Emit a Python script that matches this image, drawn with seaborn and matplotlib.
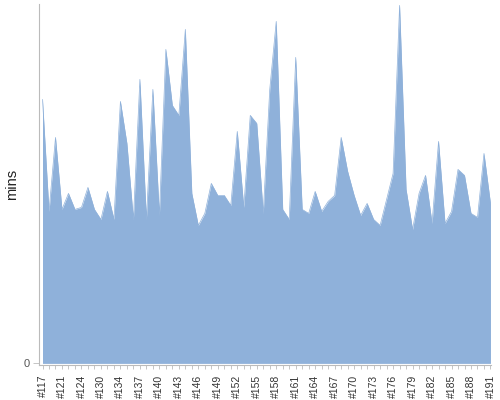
import matplotlib
matplotlib.use("Agg")
import matplotlib.pyplot as plt
import seaborn as sns
import numpy as np
import pandas as pd

builds = ["#117", "#119", "#120", "#121", "#122", "#123", "#124", "#126", "#128",
          "#130", "#131", "#133", "#134", "#135", "#136", "#137", "#138", "#139",
          "#140", "#141", "#142", "#143", "#144", "#145", "#146", "#147", "#148",
          "#149", "#150", "#151", "#152", "#153", "#154", "#155", "#156", "#157",
          "#158", "#159", "#160", "#161", "#162", "#163", "#164", "#165", "#166",
          "#167", "#168", "#169", "#170", "#171", "#172", "#173", "#174", "#175",
          "#176", "#177", "#178", "#179", "#180", "#181", "#182", "#183", "#184",
          "#185", "#186", "#187", "#188", "#189", "#190", "#191"]
mins = [13.2, 7.6, 11.3, 7.7, 8.5, 7.7, 7.8, 8.8, 7.7, 7.2,
        8.6, 7.2, 13.1, 11.0, 7.2, 14.2, 7.2, 13.7, 7.4, 15.7,
        12.9, 12.4, 16.7, 8.5, 6.9, 7.5, 9.0, 8.4, 8.4, 7.9,
        11.6, 7.8, 12.4, 12.0, 7.5, 13.7, 17.1, 7.7, 7.2, 15.3,
        7.7, 7.5, 8.6, 7.6, 8.1, 8.4, 11.3, 9.6, 8.4, 7.4,
        8.0, 7.2, 6.9, 8.2, 9.5, 17.9, 8.7, 6.7, 8.5, 9.4,
        7.0, 11.1, 7.0, 7.6, 9.7, 9.4, 7.5, 7.3, 10.5, 8.0]

df = pd.DataFrame({"build": builds, "mins": mins})
df["idx"] = np.arange(len(df))

sns.set_theme(style="white")
plt.rcParams["font.family"] = ["Liberation Sans", "DejaVu Sans"]

fig = plt.figure(figsize=(5, 4), dpi=100)
ax = fig.add_axes([0.078, 0.0875, 0.904, 0.9025])

color = "#8fb1da"
sns.lineplot(data=df, x="idx", y="mins", ax=ax, color=color, linewidth=0.5)
ax.fill_between(df["idx"], 0, df["mins"], color=color, linewidth=0)

ax.set_xlim(-0.54, 69.08)
ax.set_ylim(-0.08, 17.97)

ax.set_xticks(df["idx"], minor=True)
ax.set_xticks(df["idx"][::3])
ax.set_xticklabels(df["build"][::3], rotation=90, fontsize=7.5, color="#333333")
ax.tick_params(axis="x", which="both", bottom=True, length=3, width=0.6,
               color="#bbbbbb", pad=4)
ax.tick_params(axis="x", which="minor", labelbottom=False)

ax.set_yticks([0])
ax.set_yticklabels(["0"], fontsize=8, color="#555555")
ax.tick_params(axis="y", left=True, length=4, width=0.6, color="#bbbbbb", pad=3)

ax.set_xlabel("")
ax.set_ylabel("mins", fontsize=10.5, color="#222222")
ax.yaxis.set_label_coords(-0.044, 0.5)

for s in ["top", "right"]:
    ax.spines[s].set_visible(False)
for s in ["left", "bottom"]:
    ax.spines[s].set_color("#bbbbbb")
    ax.spines[s].set_linewidth(0.8)

fig.savefig("out.png", dpi=100)
